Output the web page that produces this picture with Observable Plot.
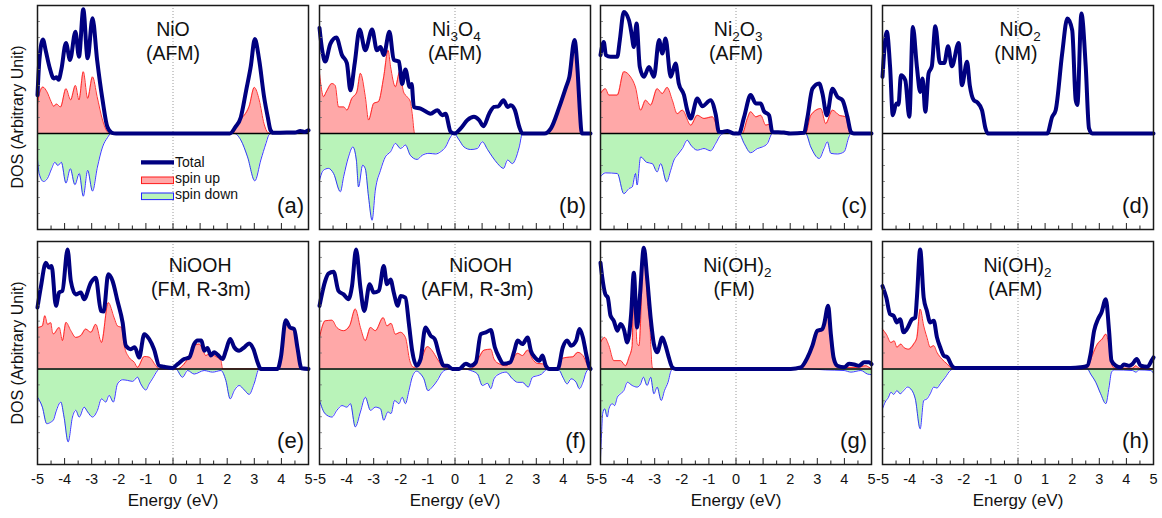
<!DOCTYPE html>
<html>
<head>
<meta charset="utf-8">
<script src="https://cdn.jsdelivr.net/npm/d3@7"></script>
<script src="https://cdn.jsdelivr.net/npm/@observablehq/plot@0.6"></script>
<style>
  body { margin: 0; background: #fff; font-family: "Liberation Sans", Arial, sans-serif; }
  #chart { position: relative; width: 1162px; height: 518px; overflow: hidden; background: #fff; }
  .panel { position: absolute; }
  .panel svg { display: block; max-width: none !important; }
  .ylab { position: absolute; width: 240px; height: 20px; line-height: 20px; text-align: center;
          font-size: 16px; color: #111; transform: rotate(-90deg); transform-origin: 50% 50%; white-space: nowrap; }
</style>
</head>
<body>
<div id="chart"></div>
<script>
// ---------------- data: [Energy (eV), DOS (arb. unit)] ----------------
const xTicksMajor = [-5, -4, -3, -2, -1, 0, 1, 2, 3, 4, 5];
const xTickLabels = ["-5", "-4", "-3", "-2", "-1", "0", "1", "2", "3", "4", "5"];
const xTicksMinor = [-4.5, -3.5, -2.5, -1.5, -0.5, 0.5, 1.5, 2.5, 3.5, 4.5];
const yTicksMinor = [-2.5, -2, -1.5, -1, -0.5, 0.5, 1, 1.5, 2, 2.5, 3, 3.5];
const xLabel = "Energy (eV)";
const yLabel = "DOS (Arbitrary Unit)";
const legendLabels = ["Total", "spin up", "spin down"];
const panelLabels = ["(a)", "(b)", "(c)", "(d)", "(e)", "(f)", "(g)", "(h)"];
const formulas = ["NiO", "Ni3O4", "Ni2O3", "NiO2", "NiOOH", "NiOOH", "Ni(OH)2", "Ni(OH)2"];
const phases = ["(AFM)", "(AFM)", "(AFM)", "(NM)", "(FM, R-3m)", "(AFM, R-3m)", "(FM)", "(AFM)"];

// (a) NiO
const NiO_total = [[-5.0,1.2],[-4.93,2.3],[-4.8,2.94],[-4.7,2.6],[-4.55,2.05],[-4.4,1.72],[-4.3,1.76],[-4.22,1.68],[-4.12,2.0],[-3.95,2.83],[-3.8,2.3],[-3.6,3.18],[-3.47,2.4],[-3.31,3.88],[-3.15,2.35],[-2.97,3.6],[-2.8,2.3],[-2.6,1.05],[-2.42,0.2],[-2.25,0.02],[-2.1,0],[2.1,0],[2.3,0.2],[2.5,0.5],[2.7,1.35],[2.87,2.1],[3.02,2.95],[3.18,2.3],[3.36,1.15],[3.5,0.5],[3.6,0.1],[3.7,0.02],[4.2,0.03],[4.5,0.03],[4.7,0.08],[4.85,0.05],[5.0,0.1]];
const NiO_up = [[-5.0,0.9],[-4.93,1.25],[-4.8,1.45],[-4.65,1.3],[-4.5,1.0],[-4.4,0.85],[-4.3,0.92],[-4.15,0.83],[-3.95,1.4],[-3.78,1.05],[-3.6,1.5],[-3.47,1.05],[-3.31,1.93],[-3.15,1.1],[-2.97,1.77],[-2.8,1.15],[-2.6,0.42],[-2.42,0.05],[-2.3,0],[2.2,0],[2.38,0.3],[2.55,0.5],[2.63,0.57],[2.81,0.85],[3.0,1.44],[3.18,1.05],[3.36,0.3],[3.5,0.03],[3.6,0],[5.0,0]];
const NiO_down = [[-5.0,-0.8],[-4.94,-1.25],[-4.78,-1.5],[-4.63,-1.4],[-4.48,-1.1],[-4.36,-0.9],[-4.25,-1.0],[-4.12,-0.9],[-3.95,-1.55],[-3.79,-1.1],[-3.62,-1.6],[-3.46,-1.25],[-3.31,-1.96],[-3.15,-1.15],[-2.97,-1.8],[-2.79,-1.05],[-2.6,-0.42],[-2.42,-0.13],[-2.29,0],[2.26,0],[2.5,-0.2],[2.75,-0.73],[3.02,-1.48],[3.24,-0.83],[3.43,-0.31],[3.55,-0.03],[3.65,0],[5.0,0]];

// (b) Ni3O4
const Ni3O4_total = [[-5.0,3.3],[-4.9,2.6],[-4.79,2.25],[-4.6,2.8],[-4.38,3.0],[-4.17,2.45],[-3.99,2.2],[-3.86,1.35],[-3.7,2.2],[-3.52,3.25],[-3.31,2.6],[-3.06,3.25],[-2.88,2.6],[-2.75,2.7],[-2.63,2.45],[-2.42,3.18],[-2.26,2.3],[-2.07,2.25],[-1.95,1.55],[-1.83,2.0],[-1.67,1.45],[-1.6,1.55],[-1.52,0.83],[-1.27,0.78],[-0.9,0.62],[-0.65,0.73],[-0.47,0.57],[-0.35,0.62],[-0.16,0.05],[-0.01,0.0],[0.21,0.16],[0.46,0.42],[0.7,0.52],[0.89,0.42],[1.05,0.23],[1.26,0.62],[1.44,0.83],[1.6,0.85],[1.79,1.04],[1.94,0.83],[2.06,0.88],[2.21,0.73],[2.37,0.21],[2.49,0],[3.3,0],[3.54,0.16],[3.85,0.83],[4.1,1.46],[4.22,1.77],[4.41,2.92],[4.53,1.88],[4.6,0.8],[4.68,0],[5.0,0]];
const Ni3O4_up = [[-5.0,1.88],[-4.85,1.15],[-4.75,1.3],[-4.54,1.56],[-4.42,1.5],[-4.3,0.83],[-4.1,0.83],[-3.99,0.73],[-3.81,1.09],[-3.62,1.3],[-3.49,1.88],[-3.31,1.15],[-3.19,0.42],[-3.0,0.94],[-2.82,1.0],[-2.63,1.77],[-2.47,2.6],[-2.38,2.1],[-2.2,1.46],[-2.04,1.93],[-1.9,1.3],[-1.77,1.15],[-1.65,1.0],[-1.58,0.62],[-1.49,0],[3.4,0],[3.54,0.16],[3.85,0.83],[4.1,1.46],[4.22,1.77],[4.41,2.92],[4.53,1.88],[4.6,0.8],[4.68,0],[5.0,0]];
const Ni3O4_down = [[-5.0,-1.46],[-4.86,-1.15],[-4.67,-1.09],[-4.48,-1.25],[-4.23,-1.82],[-4.11,-1.35],[-3.93,-0.73],[-3.77,-0.42],[-3.64,-0.83],[-3.56,-1.67],[-3.41,-0.99],[-3.31,-1.1],[-3.19,-1.98],[-3.06,-2.71],[-2.94,-1.77],[-2.75,-1.15],[-2.57,-0.73],[-2.38,-0.57],[-2.2,-0.31],[-2.01,-0.47],[-1.83,-0.36],[-1.65,-0.68],[-1.4,-0.81],[-1.21,-0.68],[-0.96,-0.62],[-0.72,-0.64],[-0.53,-0.57],[-0.35,-0.42],[-0.16,-0.1],[-0.04,0],[0.15,-0.2],[0.33,-0.42],[0.58,-0.5],[0.82,-0.47],[1.01,-0.26],[1.2,-0.5],[1.38,-0.73],[1.57,-0.94],[1.79,-1.09],[1.94,-0.83],[2.12,-0.94],[2.24,-0.78],[2.37,-0.42],[2.49,0],[5.0,0]];

// (c) Ni2O3
const Ni2O3_total = [[-5.0,2.45],[-4.88,2.86],[-4.8,2.45],[-4.63,2.4],[-4.38,2.4],[-4.29,2.9],[-4.14,3.8],[-3.95,3.54],[-3.85,3.1],[-3.77,2.7],[-3.67,3.44],[-3.55,2.08],[-3.4,1.77],[-3.21,2.08],[-3.03,1.77],[-2.84,2.92],[-2.72,2.5],[-2.6,2.97],[-2.41,1.77],[-2.23,2.19],[-2.11,1.56],[-1.92,1.2],[-1.8,0.73],[-1.67,0.47],[-1.43,1.09],[-1.24,0.85],[-0.94,1.04],[-0.75,0.6],[-0.63,0.05],[-0.5,0.05],[-0.32,0.08],[-0.07,0],[0.11,0],[0.3,0.52],[0.54,1.2],[0.73,0.94],[0.91,0.94],[1.03,0.7],[1.22,0.57],[1.34,0.05],[1.77,0.03],[2.0,0],[2.51,0.02],[2.64,0.52],[2.82,1.4],[3.07,1.56],[3.19,1.25],[3.35,0.57],[3.56,1.4],[3.74,1.15],[3.93,1.04],[4.11,0.52],[4.24,0.05],[4.35,0],[5.0,0]];
const Ni2O3_up = [[-5.0,1.25],[-4.82,1.4],[-4.69,1.2],[-4.38,1.2],[-4.14,1.93],[-3.89,1.77],[-3.71,1.45],[-3.52,0.73],[-3.34,1.04],[-3.15,0.89],[-2.91,1.4],[-2.72,1.25],[-2.54,1.44],[-2.35,1.04],[-2.17,0.62],[-1.98,0.73],[-1.67,0.26],[-1.43,0.57],[-1.18,0.47],[-0.87,0.52],[-0.63,0.05],[-0.57,0],[0.23,0],[0.42,0.47],[0.54,0.68],[0.73,0.52],[0.91,0.57],[1.1,0.26],[1.28,0.3],[1.34,0],[2.57,0],[2.76,0.57],[3.13,0.78],[3.31,0.31],[3.56,0.73],[3.81,0.57],[4.05,0.52],[4.18,0.05],[4.24,0],[5.0,0]];
const Ni2O3_down = [[-5.0,-1.35],[-4.82,-1.23],[-4.38,-1.25],[-4.14,-1.88],[-3.95,-1.72],[-3.83,-1.67],[-3.71,-1.25],[-3.65,-1.61],[-3.52,-0.73],[-3.3,-0.9],[-3.09,-0.94],[-2.91,-1.2],[-2.78,-0.94],[-2.56,-1.51],[-2.41,-1.15],[-2.29,-0.83],[-2.17,-0.68],[-1.98,-0.47],[-1.8,-0.21],[-1.67,-0.36],[-1.43,-0.52],[-1.18,-0.47],[-0.94,-0.54],[-0.75,-0.31],[-0.57,-0.05],[-0.44,0],[0.11,0],[0.3,-0.31],[0.54,-0.6],[0.79,-0.47],[0.97,-0.42],[1.16,-0.31],[1.34,0],[2.57,0],[2.76,-0.42],[3.07,-0.78],[3.25,-0.47],[3.37,-0.26],[3.5,-0.62],[3.74,-0.64],[3.99,-0.57],[4.17,-0.1],[4.24,0],[5.0,0]];

// (d) NiO2 (non-magnetic: total only)
const NiO2_total = [[-5.0,1.77],[-4.84,3.18],[-4.72,2.08],[-4.62,0.57],[-4.49,0.94],[-4.41,0.9],[-4.32,1.82],[-4.16,1.67],[-4.01,0.52],[-3.88,3.33],[-3.73,2.08],[-3.61,1.3],[-3.52,1.72],[-3.42,0.68],[-3.3,1.88],[-3.18,2.1],[-3.05,3.35],[-2.88,2.2],[-2.72,2.2],[-2.58,2.73],[-2.44,2.1],[-2.19,2.83],[-2.07,1.51],[-1.88,2.24],[-1.78,1.51],[-1.63,1.04],[-1.51,0.98],[-1.33,0.73],[-1.2,0.16],[-1.12,0],[1.08,0],[1.26,0.52],[1.39,0.73],[1.63,2.5],[1.82,3.59],[2.0,3.23],[2.13,1.04],[2.19,0.89],[2.34,3.75],[2.5,2.08],[2.62,0.16],[2.74,0],[5.0,0]];

// (e) NiOOH FM
const NiOOH_FM_total = [[-5.0,1.93],[-4.88,2.55],[-4.69,3.33],[-4.57,3.18],[-4.48,3.23],[-4.32,1.98],[-4.2,2.4],[-4.08,2.45],[-3.89,3.75],[-3.77,2.76],[-3.59,2.34],[-3.4,2.4],[-3.28,2.19],[-3.03,2.71],[-2.85,2.86],[-2.66,1.82],[-2.56,1.8],[-2.39,2.97],[-2.23,2.76],[-2.05,2.14],[-1.86,1.46],[-1.74,0.73],[-1.56,0.62],[-1.41,0.68],[-1.25,0.36],[-1.06,1.09],[-0.88,0.94],[-0.7,0.62],[-0.51,0.1],[-0.33,0.07],[-0.02,0.03],[0.17,0.15],[0.41,0.31],[0.6,0.36],[0.78,0.78],[0.9,0.89],[1.05,0.89],[1.15,0.57],[1.27,0.66],[1.4,0.42],[1.52,0.52],[1.64,0.45],[1.83,0.31],[1.95,0.57],[2.11,0.94],[2.26,0.68],[2.44,0.57],[2.63,0.68],[2.81,0.8],[2.97,0.62],[3.12,0.21],[3.24,0],[3.86,0],[3.98,0.36],[4.16,1.53],[4.32,1.3],[4.47,1.25],[4.59,0.68],[4.74,0.02],[5.0,0]];
const NiOOH_FM_up = [[-5.0,1.3],[-4.82,1.35],[-4.73,1.67],[-4.63,1.4],[-4.51,1.45],[-4.45,1.15],[-4.41,1.1],[-4.2,1.3],[-4.08,0.89],[-3.95,1.46],[-3.77,1.2],[-3.59,0.99],[-3.4,1.05],[-3.22,1.25],[-3.03,1.15],[-2.85,1.4],[-2.64,0.83],[-2.39,2.08],[-2.17,1.6],[-2.05,1.35],[-1.9,1.3],[-1.8,0.73],[-1.62,0.36],[-1.43,0.21],[-1.31,0.05],[-1.06,0.39],[-0.88,0.37],[-0.63,0.1],[-0.51,0],[0.17,0],[0.35,0.1],[0.54,0.31],[0.78,0.73],[0.97,0.78],[1.09,0.62],[1.21,0.42],[1.33,0.47],[1.58,0.39],[1.77,0.26],[1.83,0],[3.86,0],[4.0,0.36],[4.16,1.51],[4.32,1.3],[4.47,1.25],[4.59,0.62],[4.72,0],[5.0,0]];
const NiOOH_FM_down = [[-5.0,-0.89],[-4.82,-1.2],[-4.66,-1.72],[-4.51,-1.67],[-4.41,-1.6],[-4.32,-1.35],[-4.14,-1.04],[-4.02,-1.51],[-3.87,-2.29],[-3.71,-1.51],[-3.59,-1.3],[-3.46,-1.51],[-3.28,-1.2],[-3.15,-1.35],[-2.97,-1.51],[-2.79,-1.3],[-2.64,-0.94],[-2.48,-1.04],[-2.36,-0.83],[-2.2,-1.04],[-2.05,-0.47],[-1.86,-0.34],[-1.68,-0.36],[-1.49,-0.39],[-1.31,-0.26],[-1.19,-0.47],[-1.0,-0.66],[-0.88,-0.47],[-0.76,-0.31],[-0.57,-0.05],[-0.51,0],[0.1,0],[0.35,-0.26],[0.54,-0.05],[0.78,-0.16],[1.15,-0.05],[1.46,-0.1],[1.77,-0.05],[1.95,-0.36],[2.11,-0.94],[2.26,-0.68],[2.44,-0.52],[2.63,-0.66],[2.81,-0.8],[2.99,-0.47],[3.18,0],[5.0,0]];

// (f) NiOOH AFM
const NiOOH_AFM_total = [[-5.0,1.98],[-4.79,2.76],[-4.67,2.99],[-4.48,3.05],[-4.3,2.45],[-4.11,2.34],[-3.93,2.19],[-3.8,2.6],[-3.65,3.75],[-3.49,2.55],[-3.35,1.82],[-3.15,2.66],[-3.0,2.4],[-2.81,2.45],[-2.63,3.23],[-2.51,2.66],[-2.38,2.81],[-2.26,2.4],[-2.11,1.98],[-2.01,2.29],[-1.83,2.24],[-1.7,1.41],[-1.58,0.57],[-1.42,0.1],[-1.27,0.31],[-1.09,1.3],[-0.9,1.04],[-0.75,0.94],[-0.59,0.47],[-0.41,0.1],[-0.28,0.1],[-0.1,0],[0.15,0],[0.4,0.16],[0.58,0.1],[0.77,0.21],[0.95,1.09],[1.14,1.15],[1.32,1.22],[1.47,0.68],[1.63,0.36],[1.79,0.16],[2.04,0.21],[2.19,0.57],[2.31,0.89],[2.49,0.78],[2.68,0.99],[2.8,0.57],[2.95,0.36],[3.11,0.26],[3.23,0.42],[3.35,0.1],[3.48,0],[3.79,0],[3.98,0.68],[4.14,0.89],[4.28,0.73],[4.47,0.89],[4.59,1.25],[4.72,0.99],[4.84,0.47],[4.96,0.05],[5.0,0]];
const NiOOH_AFM_up = [[-5.0,0.99],[-4.79,1.51],[-4.54,1.53],[-4.36,1.3],[-4.11,1.2],[-3.89,1.35],[-3.68,1.88],[-3.49,1.3],[-3.31,0.89],[-3.12,1.3],[-2.94,1.2],[-2.65,1.61],[-2.51,1.35],[-2.36,1.43],[-2.2,1.09],[-2.01,1.15],[-1.83,0.99],[-1.67,0.26],[-1.52,0.05],[-1.27,0.26],[-1.02,0.7],[-0.84,0.57],[-0.65,0.31],[-0.47,0.1],[-0.28,0.03],[-0.1,0],[0.58,0],[0.77,0.16],[0.89,0.36],[1.07,0.59],[1.32,0.62],[1.44,0.31],[1.63,0.16],[1.88,0.1],[2.06,0.21],[2.31,0.49],[2.49,0.42],[2.68,0.59],[2.86,0.31],[3.05,0.17],[3.23,0.16],[3.35,0.05],[3.48,0],[3.79,0],[3.91,0.31],[4.1,0.36],[4.35,0.38],[4.53,0.52],[4.72,0.42],[4.9,0.1],[5.0,0]];
const NiOOH_AFM_down = [[-5.0,-0.99],[-4.79,-1.41],[-4.54,-1.51],[-4.36,-1.3],[-4.17,-1.15],[-3.99,-1.2],[-3.86,-1.09],[-3.68,-1.82],[-3.49,-1.35],[-3.31,-0.89],[-3.12,-1.3],[-2.94,-1.2],[-2.75,-1.25],[-2.63,-1.61],[-2.48,-1.35],[-2.36,-1.4],[-2.23,-0.99],[-2.07,-1.09],[-1.95,-0.89],[-1.83,-1.09],[-1.7,-0.68],[-1.58,-0.26],[-1.42,-0.07],[-1.27,-0.16],[-1.15,-0.31],[-1.0,-0.68],[-0.84,-0.57],[-0.65,-0.36],[-0.47,-0.1],[-0.35,-0.03],[-0.1,0],[0.33,0],[0.58,-0.05],[0.83,-0.16],[1.01,-0.52],[1.2,-0.45],[1.32,-0.62],[1.44,-0.31],[1.63,-0.16],[1.88,-0.1],[2.12,-0.31],[2.31,-0.42],[2.49,-0.42],[2.7,-0.57],[2.86,-0.26],[3.05,-0.21],[3.2,-0.16],[3.35,-0.03],[3.48,0],[3.85,-0.05],[3.98,-0.26],[4.14,-0.47],[4.28,-0.31],[4.47,-0.42],[4.59,-0.62],[4.72,-0.42],[4.84,-0.1],[4.96,0],[5.0,0]];

// (g) Ni(OH)2 FM
const NiOH2_FM_total = [[-5.0,3.33],[-4.94,2.9],[-4.82,2.34],[-4.73,2.24],[-4.63,1.67],[-4.51,1.51],[-4.38,1.2],[-4.26,1.41],[-4.14,1.25],[-4.01,0.83],[-3.87,1.72],[-3.77,3.02],[-3.65,1.3],[-3.55,2.24],[-3.4,3.8],[-3.28,2.86],[-3.15,1.61],[-3.03,0.78],[-2.91,0.52],[-2.72,0.99],[-2.6,0.73],[-2.48,0.36],[-2.35,0.05],[-2.23,0],[2.02,0],[2.39,0.05],[2.64,0.36],[2.82,0.73],[3.0,1.2],[3.19,1.25],[3.25,1.4],[3.4,1.98],[3.5,1.09],[3.6,0.36],[3.74,0.1],[3.99,0.05],[4.17,0.16],[4.36,0.14],[4.54,0.1],[4.73,0.21],[4.91,0.21],[5.0,0.15]];
const NiOH2_FM_up = [[-5.0,0.83],[-4.85,0.99],[-4.69,0.73],[-4.51,0.26],[-4.26,0.26],[-4.08,0.1],[-3.95,0.36],[-3.83,0.73],[-3.77,2.97],[-3.65,0.8],[-3.58,0.73],[-3.4,3.75],[-3.28,2.2],[-3.18,1.3],[-3.09,0.05],[-3.03,0],[2.39,0],[2.64,0.31],[2.82,0.68],[3.0,1.15],[3.19,1.2],[3.4,1.93],[3.5,1.09],[3.6,0.31],[3.74,0.05],[4.17,0.05],[4.48,0.05],[4.79,0.1],[4.91,0.05],[5.0,0]];
const NiOH2_FM_down = [[-5.0,-2.8],[-4.96,-2.0],[-4.92,-1.4],[-4.85,-1.25],[-4.75,-1.51],[-4.69,-1.25],[-4.57,-1.09],[-4.48,-1.15],[-4.38,-0.89],[-4.26,-0.78],[-4.14,-0.68],[-4.01,-0.42],[-3.83,-0.52],[-3.65,-0.57],[-3.52,-0.47],[-3.42,-0.26],[-3.28,-0.52],[-3.15,-0.26],[-3.03,-0.78],[-2.91,-0.57],[-2.76,-0.99],[-2.64,-0.68],[-2.51,-0.42],[-2.39,-0.05],[-2.29,0],[2.6,0],[3.3,-0.03],[3.99,-0.05],[4.24,-0.1],[4.61,-0.05],[4.85,-0.16],[5.0,-0.18]];

// (h) Ni(OH)2 AFM
const NiOH2_AFM_total = [[-5.0,2.6],[-4.86,2.24],[-4.72,1.72],[-4.59,1.67],[-4.47,1.46],[-4.35,1.56],[-4.22,1.15],[-4.1,1.25],[-3.91,1.56],[-3.79,1.61],[-3.73,2.24],[-3.61,3.75],[-3.48,2.24],[-3.36,1.82],[-3.24,1.46],[-3.11,1.51],[-2.99,0.99],[-2.87,0.68],[-2.74,0.42],[-2.6,0.36],[-2.44,0.1],[-2.31,0.03],[1.94,0.03],[2.31,0.05],[2.56,0.1],[2.68,0.47],[2.81,1.2],[2.95,1.56],[3.08,1.77],[3.24,2.19],[3.36,1.2],[3.45,0.26],[3.61,0.1],[3.79,0.05],[3.91,0.14],[4.1,0.1],[4.22,0.15],[4.38,0.31],[4.53,0.1],[4.78,0.07],[4.93,0.26],[5.0,0.36]];
const NiOH2_AFM_up = [[-5.0,1.25],[-4.86,1.09],[-4.69,0.83],[-4.57,0.88],[-4.47,0.68],[-4.32,0.78],[-4.22,0.68],[-4.04,0.62],[-3.85,0.78],[-3.73,0.99],[-3.61,1.88],[-3.48,1.35],[-3.36,0.99],[-3.24,0.68],[-3.11,0.73],[-2.99,0.52],[-2.81,0.31],[-2.62,0.16],[-2.44,0.02],[-2.31,0],[2.31,0],[2.56,0.05],[2.74,0.42],[2.93,0.78],[3.11,0.94],[3.24,1.09],[3.36,0.73],[3.45,0.16],[3.55,0.03],[4.22,0.02],[4.35,0.1],[4.47,0.02],[5.0,0]];
const NiOH2_AFM_down = [[-5.0,-1.25],[-4.9,-1.04],[-4.78,-0.89],[-4.69,-0.73],[-4.59,-0.8],[-4.47,-0.68],[-4.35,-0.78],[-4.22,-0.68],[-4.08,-0.57],[-3.91,-0.68],[-3.79,-0.94],[-3.61,-1.88],[-3.48,-0.99],[-3.36,-0.94],[-3.24,-0.78],[-3.11,-0.57],[-2.99,-0.6],[-2.87,-0.47],[-2.68,-0.26],[-2.5,-0.05],[-2.37,0],[2.56,0],[2.68,-0.16],[2.87,-0.42],[3.05,-0.78],[3.24,-1.09],[3.36,-0.57],[3.45,-0.1],[3.55,-0.03],[4.22,-0.05],[4.35,-0.1],[4.47,-0.03],[4.9,-0.05],[5.0,-0.14]];

// ---------------- layout ----------------
const series = [
  [NiO_total, NiO_up, NiO_down],
  [Ni3O4_total, Ni3O4_up, Ni3O4_down],
  [Ni2O3_total, Ni2O3_up, Ni2O3_down],
  [NiO2_total, null, null],
  [NiOOH_FM_total, NiOOH_FM_up, NiOOH_FM_down],
  [NiOOH_AFM_total, NiOOH_AFM_up, NiOOH_AFM_down],
  [NiOH2_FM_total, NiOH2_FM_up, NiOH2_FM_down],
  [NiOH2_AFM_total, NiOH2_AFM_up, NiOH2_AFM_down]
];
const titleCenters = [[0, 0], [0.05, 0], [0.08, 0], [0.08, -0.08], [1.0, 1.03], [0.95, 0.82], [0.05, -0.07], [-0.02, -0.1]];

const W = 271;
const colLeft = [37, 319, 600, 882];
const rowTop = [5, 241];
const rowH = [224, 223];
const M = 3;
const MB2 = 52;
const C = {
  total: "#000080", upFill: "#ffa8a8", upLine: "#ff1a1a",
  downFill: "#b9f3b9", downLine: "#2222ff", frame: "#1a1a1a"
};
const FONT = "'Liberation Sans', Arial, sans-serif";

const chart = document.getElementById("chart");

// turn the digits of a chemical formula into subscripts
function subscriptify(svg, formula) {
  if (!/\d/.test(formula)) return;
  svg.querySelectorAll("text").forEach(t => {
    if (t.textContent !== formula) return;
    t.textContent = "";
    let shifted = false;
    for (const part of formula.match(/\d+|\D+/g)) {
      const ts = document.createElementNS("http://www.w3.org/2000/svg", "tspan");
      ts.textContent = part;
      if (/\d/.test(part)) { ts.setAttribute("font-size", "13.5"); ts.setAttribute("dy", "5"); shifted = true; }
      else if (shifted) { ts.setAttribute("dy", "-5"); shifted = false; }
      t.appendChild(ts);
    }
  });
}

series.forEach(([total, up, down], i) => {
  const row = Math.floor(i / 4), col = i % 4;
  const H = rowH[row];
  const mb = row === 1 ? MB2 : M;
  const xy = {x: d => d[0], y: d => d[1], curve: "monotone-x"};
  const marks = [Plot.ruleX([0], {stroke: "#9a9a9a", strokeWidth: 1, strokeDasharray: "1,2"})];
  if (up) marks.push(
    Plot.areaY(up, {...xy, fill: C.upFill}),
    Plot.areaY(down, {...xy, fill: C.downFill}),
    Plot.line(up, {...xy, stroke: C.upLine, strokeWidth: 0.9}),
    Plot.line(down, {...xy, stroke: C.downLine, strokeWidth: 0.9})
  );
  marks.push(
    Plot.ruleY([0], {stroke: "#000", strokeWidth: 1.6}),
    Plot.line(total, {...xy, stroke: C.total, strokeWidth: 4, strokeLinejoin: "round", strokeLinecap: "round"}),
    Plot.tickX(xTicksMajor, {x: d => d, insetTop: H - 6, stroke: "#222"}),
    Plot.tickX(xTicksMinor, {x: d => d, insetTop: H - 3.5, stroke: "#222"}),
    Plot.tickY(yTicksMinor, {y: d => d, insetRight: W - 3, stroke: "#777", strokeWidth: 0.8}),
    Plot.frame({stroke: C.frame, strokeWidth: 1.5}),
    Plot.text([formulas[i]], {x: () => titleCenters[i][0], frameAnchor: "top", dy: 30, lineAnchor: "bottom", fontSize: 19.5, fill: "#111", text: d => d}),
    Plot.text([phases[i]], {x: () => titleCenters[i][1], frameAnchor: "top", dy: 54.5, lineAnchor: "bottom", fontSize: 19.5, fill: "#111", text: d => d}),
    Plot.text([panelLabels[i]], {frameAnchor: "bottom-right", dx: -4.5, dy: -16.5, lineAnchor: "bottom", textAnchor: "end", fontSize: 22, fill: "#111", text: d => d})
  );
  if (row === 1) marks.push(
    Plot.axisX(xTicksMajor, {tickSize: 0, tickPadding: 9, fontSize: 14.5, fill: "#111",
      tickFormat: d => xTickLabels[xTicksMajor.indexOf(d)], label: null}),
    Plot.text([xLabel], {frameAnchor: "bottom", dy: 41, lineAnchor: "bottom", fontSize: 17, fill: "#111", text: d => d})
  );
  const svg = Plot.plot({
    width: W + 2 * M, height: H + M + mb,
    marginLeft: M, marginRight: M, marginTop: M, marginBottom: mb,
    x: {domain: [-5, 5], axis: null},
    y: {domain: [-3, 4], axis: null},
    style: {fontFamily: FONT, background: "transparent", overflow: "visible"},
    marks
  });
  subscriptify(svg, formulas[i]);
  const div = document.createElement("div");
  div.className = "panel";
  div.style.left = (colLeft[col] - M) + "px";
  div.style.top = (rowTop[row] - M) + "px";
  div.style.width = (W + 2 * M) + "px";
  div.appendChild(svg);
  chart.appendChild(div);
});

// y labels (one per row)
[117, 352.5].forEach(cy => {
  const d = document.createElement("div");
  d.className = "ylab";
  d.textContent = yLabel;
  d.style.left = (18 - 120) + "px";
  d.style.top = (cy - 10) + "px";
  chart.appendChild(d);
});

// legend inside panel (a)
const leg = d3.create("svg").attr("width", 140).attr("height", 62)
  .style("position", "absolute").style("left", "138px").style("top", "150px")
  .style("font-family", FONT).style("font-size", "14px");
leg.append("line").attr("x1", 3).attr("x2", 36).attr("y1", 12.3).attr("y2", 12.3)
  .attr("stroke", C.total).attr("stroke-width", 4.2);
leg.append("rect").attr("x", 3.5).attr("y", 27).attr("width", 32).attr("height", 6.6)
  .attr("fill", C.upFill).attr("stroke", C.upLine).attr("stroke-width", 1);
leg.append("rect").attr("x", 3.5).attr("y", 43).attr("width", 32).attr("height", 6.6)
  .attr("fill", C.downFill).attr("stroke", C.downLine).attr("stroke-width", 1);
[16.8, 32.8, 49.2].forEach((yb, k) => {
  leg.append("text").attr("x", 37).attr("y", yb).attr("fill", "#111").text(legendLabels[k]);
});
chart.appendChild(leg.node());
</script>
</body>
</html>
